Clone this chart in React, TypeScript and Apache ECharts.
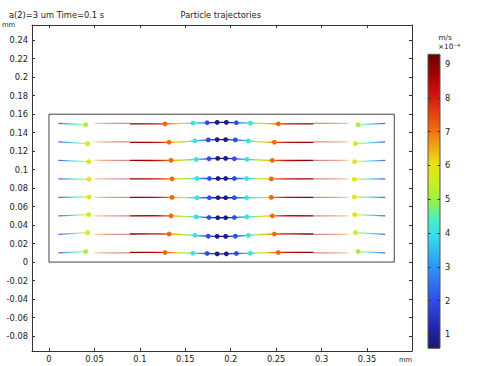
import React, { useEffect, useRef } from 'react';
import * as echarts from 'echarts';

// ---------- data ----------
const rowY = [0.15, 0.13, 0.11, 0.09, 0.07, 0.05, 0.03, 0.01];

const particleX = [
  [0.0404, 0.1277, 0.1585, 0.1741, 0.1851, 0.1952, 0.2062, 0.2216, 0.2524, 0.3401],
  [0.0426, 0.1321, 0.1607, 0.1753, 0.1851, 0.1944, 0.2051, 0.2194, 0.2480, 0.3372],
  [0.0437, 0.1343, 0.1621, 0.1761, 0.1857, 0.1944, 0.2040, 0.2179, 0.2458, 0.3364],
  [0.0440, 0.1354, 0.1629, 0.1765, 0.1860, 0.1944, 0.2040, 0.2175, 0.2447, 0.3360],
  [0.0440, 0.1354, 0.1629, 0.1765, 0.1860, 0.1944, 0.2040, 0.2175, 0.2447, 0.3360],
  [0.0437, 0.1343, 0.1621, 0.1761, 0.1857, 0.1944, 0.2040, 0.2179, 0.2458, 0.3364],
  [0.0426, 0.1321, 0.1607, 0.1753, 0.1851, 0.1944, 0.2051, 0.2194, 0.2480, 0.3372],
  [0.0404, 0.1277, 0.1585, 0.1741, 0.1851, 0.1952, 0.2062, 0.2216, 0.2524, 0.3401],
];

const particleDy = [
  [-0.0014, -0.0004, 0.0004, 0.0007, 0.0011, 0.0011, 0.0007, 0.0004, -0.0004, -0.0014],
  [-0.0018, -0.0004, 0.0011, 0.0022, 0.0025, 0.0025, 0.0022, 0.0011, -0.0004, -0.0018],
  [-0.0014, 0.0, 0.0011, 0.0018, 0.0022, 0.0022, 0.0018, 0.0011, 0.0, -0.0014],
  [-0.0004, 0.0, 0.0004, 0.0004, 0.0004, 0.0004, 0.0004, 0.0004, 0.0, -0.0004],
  [0.0004, 0.0, -0.0004, -0.0004, -0.0004, -0.0004, -0.0004, -0.0004, 0.0, 0.0004],
  [0.0014, 0.0, -0.0011, -0.0018, -0.0020, -0.0020, -0.0018, -0.0011, 0.0, 0.0014],
  [0.0018, 0.0004, -0.0011, -0.0020, -0.0022, -0.0022, -0.0020, -0.0011, 0.0004, 0.0018],
  [0.0014, 0.0004, -0.0004, -0.0007, -0.0011, -0.0011, -0.0007, -0.0004, 0.0004, 0.0014],
];

const particleSpeed = [
  [5.0, 7.1, 4.1, 2.0, 0.8, 0.8, 2.0, 4.1, 7.1, 5.0],
  [5.5, 7.1, 4.1, 2.0, 0.8, 0.8, 2.0, 4.1, 7.1, 5.5],
  [5.8, 7.1, 4.1, 2.0, 0.8, 0.8, 2.0, 4.1, 7.1, 5.8],
  [5.9, 7.1, 4.1, 2.0, 0.8, 0.8, 2.0, 4.1, 7.1, 5.9],
  [5.9, 7.1, 4.1, 2.0, 0.8, 0.8, 2.0, 4.1, 7.1, 5.9],
  [5.8, 7.1, 4.1, 2.0, 0.8, 0.8, 2.0, 4.1, 7.1, 5.8],
  [5.5, 7.1, 4.1, 2.0, 0.8, 0.8, 2.0, 4.1, 7.1, 5.5],
  [5.0, 7.1, 4.1, 2.0, 0.8, 0.8, 2.0, 4.1, 7.1, 5.0],
];

const speedX = [
  0.01, 0.02, 0.03, 0.04, 0.05, 0.06, 0.07, 0.08, 0.09, 0.10, 0.11, 0.12, 0.13,
  0.14, 0.15, 0.16, 0.17, 0.18, 0.19, 0.20, 0.21, 0.22, 0.23, 0.24, 0.25, 0.26,
  0.27, 0.28, 0.29, 0.30, 0.31, 0.32, 0.33, 0.34, 0.35, 0.36, 0.37,
];
const speedV = [
  1.6, 3.1, 4.4, 5.4, 6.5, 7.4, 8.1, 8.6, 8.9, 8.9, 8.6, 8.1, 7.3,
  6.3, 5.1, 3.8, 2.5, 1.2, 0.6, 1.2, 2.5, 3.8, 5.1, 6.3, 7.3, 8.1,
  8.6, 8.9, 8.9, 8.6, 8.1, 7.4, 6.5, 5.4, 4.4, 3.1, 1.6,
];

const trailStartX = 0.0103;
const trailEndX = 0.37;
const paleLeftX = [0.05, 0.089];
const paleRightX = [0.291, 0.3295];

const channelX = [0, 0.38, 0.38, 0, 0];
const channelY = [0, 0, 0.16, 0.16, 0];

const xTicks = [0, 0.05, 0.1, 0.15, 0.2, 0.25, 0.3, 0.35];
const yTicks = [-0.08, -0.06, -0.04, -0.02, 0, 0.02, 0.04, 0.06, 0.08, 0.1, 0.12, 0.14, 0.16, 0.18, 0.2, 0.22, 0.24];
const cbTicks = [1, 2, 3, 4, 5, 6, 7, 8, 9];

const xRange = [-0.0187, 0.3995];
const yRange = [-0.0962, 0.2565];
const speedMin = 0.586;
const speedMax = 9.29;

// ---------- colour map (style) ----------
const cmapStops: [number, string][] = [
  [0.0, '#1a1a6b'],
  [0.06, '#2121a8'],
  [0.17, '#2f50f0'],
  [0.28, '#2f98f2'],
  [0.38, '#33dcec'],
  [0.44, '#48f0c0'],
  [0.5, '#98f048'],
  [0.56, '#c8f020'],
  [0.63, '#ece010'],
  [0.74, '#f07010'],
  [0.86, '#d81010'],
  [0.94, '#a00000'],
  [1.0, '#680000'],
];

function hexRgb(h: string) {
  return [parseInt(h.slice(1, 3), 16), parseInt(h.slice(3, 5), 16), parseInt(h.slice(5, 7), 16)];
}

function cmap(v: number) {
  const t = Math.min(1, Math.max(0, (v - speedMin) / (speedMax - speedMin)));
  for (let i = 1; i < cmapStops.length; i++) {
    const [t1, c1] = cmapStops[i];
    if (t <= t1) {
      const [t0, c0] = cmapStops[i - 1];
      const f = (t - t0) / (t1 - t0);
      const a = hexRgb(c0);
      const b = hexRgb(c1);
      const c = a.map((x, k) => Math.round(x + (b[k] - x) * f));
      return `rgb(${c[0]},${c[1]},${c[2]})`;
    }
  }
  return cmapStops[cmapStops.length - 1][1];
}

function speedAt(x: number) {
  if (x <= speedX[0]) return speedV[0];
  for (let i = 1; i < speedX.length; i++) {
    if (x <= speedX[i]) {
      const f = (x - speedX[i - 1]) / (speedX[i] - speedX[i - 1]);
      return speedV[i - 1] + (speedV[i] - speedV[i - 1]) * f;
    }
  }
  return speedV[speedV.length - 1];
}

function stopsFor(xa: number, xb: number) {
  const stops = [{ offset: 0, color: cmap(speedAt(xa)) }];
  speedX.forEach((sx, i) => {
    if (sx > xa && sx < xb) stops.push({ offset: (sx - xa) / (xb - xa), color: cmap(speedV[i]) });
  });
  stops.push({ offset: 1, color: cmap(speedAt(xb)) });
  return stops;
}

type Seg = { pts: number[][]; opacity: number };
const segments: Seg[] = [];
rowY.forEach((y0, r) => {
  const px = particleX[r];
  const dy = particleDy[r];
  segments.push({ pts: [[trailStartX, y0], [px[0], y0 + dy[0]]], opacity: 0.8 });
  segments.push({ pts: [[paleLeftX[0], y0], [paleLeftX[1], y0]], opacity: 0.45 });
  const mid: number[][] = [[paleLeftX[1], y0 + dy[1]]];
  for (let i = 1; i <= 8; i++) mid.push([px[i], y0 + dy[i]]);
  mid.push([paleRightX[0], y0 + dy[8]]);
  segments.push({ pts: mid, opacity: 1 });
  segments.push({ pts: [[paleRightX[0], y0], [paleRightX[1], y0]], opacity: 0.45 });
  segments.push({ pts: [[px[9], y0 + dy[9]], [trailEndX, y0]], opacity: 0.8 });
});

const dots: number[][] = [];
rowY.forEach((y0, r) => {
  particleX[r].forEach((x, i) => dots.push([x, y0 + particleDy[r][i], particleSpeed[r][i]]));
});

const FONT = 'DejaVu Sans';
const AX = '#333';

function frameAxis(pos: string, isX: boolean, ticks: number[], showLabels: boolean) {
  return {
    gridIndex: 0,
    type: 'value',
    position: pos,
    min: isX ? xRange[0] : yRange[0],
    max: isX ? xRange[1] : yRange[1],
    axisLine: { show: true, onZero: false, lineStyle: { color: AX, width: 1 } },
    axisTick: { show: true, inside: true, length: 3, customValues: ticks, lineStyle: { color: AX, width: 1 } },
    axisLabel: {
      show: showLabels,
      customValues: ticks,
      margin: 4,
      fontSize: 8.3,
      fontFamily: FONT,
      color: '#222',
    },
    splitLine: { show: false },
  };
}

function cbAxis(pos: string, showLabels: boolean) {
  return {
    gridIndex: 1,
    type: 'value',
    position: pos,
    min: speedMin,
    max: speedMax,
    axisLine: { show: false, onZero: false },
    axisTick: { show: true, inside: true, length: 2.5, customValues: cbTicks, lineStyle: { color: '#333', width: 1 } },
    axisLabel: {
      show: showLabels,
      customValues: cbTicks,
      margin: 5,
      fontSize: 8.3,
      fontFamily: FONT,
      color: '#222',
    },
    splitLine: { show: false },
  };
}

function buildOption() {
  const textStyle = (size: number) => ({ font: `${size}px "${FONT}"`, fill: '#222' });
  return {
    animation: false,
    backgroundColor: '#fff',
    textStyle: { fontFamily: FONT },
    grid: [
      { left: 32, top: 25, width: 380, height: 326, show: false },
      { left: 428, top: 54.3, width: 12, height: 294, show: false },
    ],
    xAxis: [
      frameAxis('bottom', true, xTicks, true),
      frameAxis('top', true, xTicks, false),
      { gridIndex: 1, type: 'value', min: 0, max: 1, show: false },
    ],
    yAxis: [
      frameAxis('left', false, yTicks, true),
      frameAxis('right', false, yTicks, false),
      cbAxis('left', false),
      cbAxis('right', true),
    ],
    graphic: [
      { type: 'text', x: 9, y: 15, style: { ...textStyle(8.3), text: 'a(2)=3 um Time=0.1 s', verticalAlign: 'middle' } },
      { type: 'text', x: 180.5, y: 15, style: { ...textStyle(8.3), text: 'Particle trajectories', verticalAlign: 'middle' } },
      { type: 'text', x: 2, y: 25, style: { ...textStyle(6.8), text: 'mm', verticalAlign: 'middle' } },
      { type: 'text', x: 399, y: 360, style: { ...textStyle(6.8), text: 'mm', verticalAlign: 'middle' } },
      { type: 'text', x: 438.5, y: 37, style: { ...textStyle(7.3), text: 'm/s', verticalAlign: 'middle' } },
      { type: 'text', x: 438, y: 46, style: { ...textStyle(7.3), text: '×10⁻⁴', verticalAlign: 'middle' } },
    ],
    series: [
      {
        type: 'line',
        xAxisIndex: 0,
        yAxisIndex: 0,
        data: channelX.map((x, i) => [x, channelY[i]]),
        symbol: 'none',
        lineStyle: { color: '#444', width: 1 },
        silent: true,
      },
      {
        type: 'custom',
        xAxisIndex: 0,
        yAxisIndex: 0,
        data: segments.map((s, i) => [s.pts[0][0], s.pts[0][1], i]),
        renderItem: (params: any, api: any) => {
          const seg = segments[api.value(2)];
          const pts = seg.pts.map((p) => api.coord(p));
          const xa = seg.pts[0][0];
          const xb = seg.pts[seg.pts.length - 1][0];
          const grad = new echarts.graphic.LinearGradient(
            pts[0][0], 0, pts[pts.length - 1][0], 0,
            stopsFor(xa, xb), true
          );
          return {
            type: 'polyline',
            shape: { points: pts, smooth: 0.35 },
            style: { stroke: grad, lineWidth: 1.3, fill: 'none', opacity: seg.opacity },
            silent: true,
          };
        },
      },
      {
        type: 'scatter',
        xAxisIndex: 0,
        yAxisIndex: 0,
        data: dots,
        symbol: 'circle',
        symbolSize: 4.8,
        itemStyle: { color: (p: any) => cmap(p.value[2]), opacity: 1 },
        silent: true,
      },
      {
        type: 'custom',
        xAxisIndex: 2,
        yAxisIndex: 2,
        z: -1,
        data: [[0, speedMin, 1, speedMax]],
        renderItem: (params: any, api: any) => {
          const p0 = api.coord([api.value(0), api.value(1)]);
          const p1 = api.coord([api.value(2), api.value(3)]);
          return {
            type: 'rect',
            shape: { x: p0[0], y: p1[1], width: p1[0] - p0[0], height: p0[1] - p1[1] },
            style: {
              fill: new echarts.graphic.LinearGradient(
                0, 1, 0, 0,
                cmapStops.map(([t, c]) => ({ offset: t, color: c }))
              ),
              stroke: '#555',
              lineWidth: 1,
            },
            silent: true,
          };
        },
      },
    ],
  };
}

export default function App() {
  const ref = useRef<HTMLDivElement>(null);
  useEffect(() => {
    document.body.style.margin = '0';
    const chart = echarts.init(ref.current as HTMLDivElement, null, { renderer: 'svg' });
    chart.setOption(buildOption() as any);
    return () => chart.dispose();
  }, []);
  return <div ref={ref} style={{ width: 479, height: 366, background: '#fff' }} />;
}
